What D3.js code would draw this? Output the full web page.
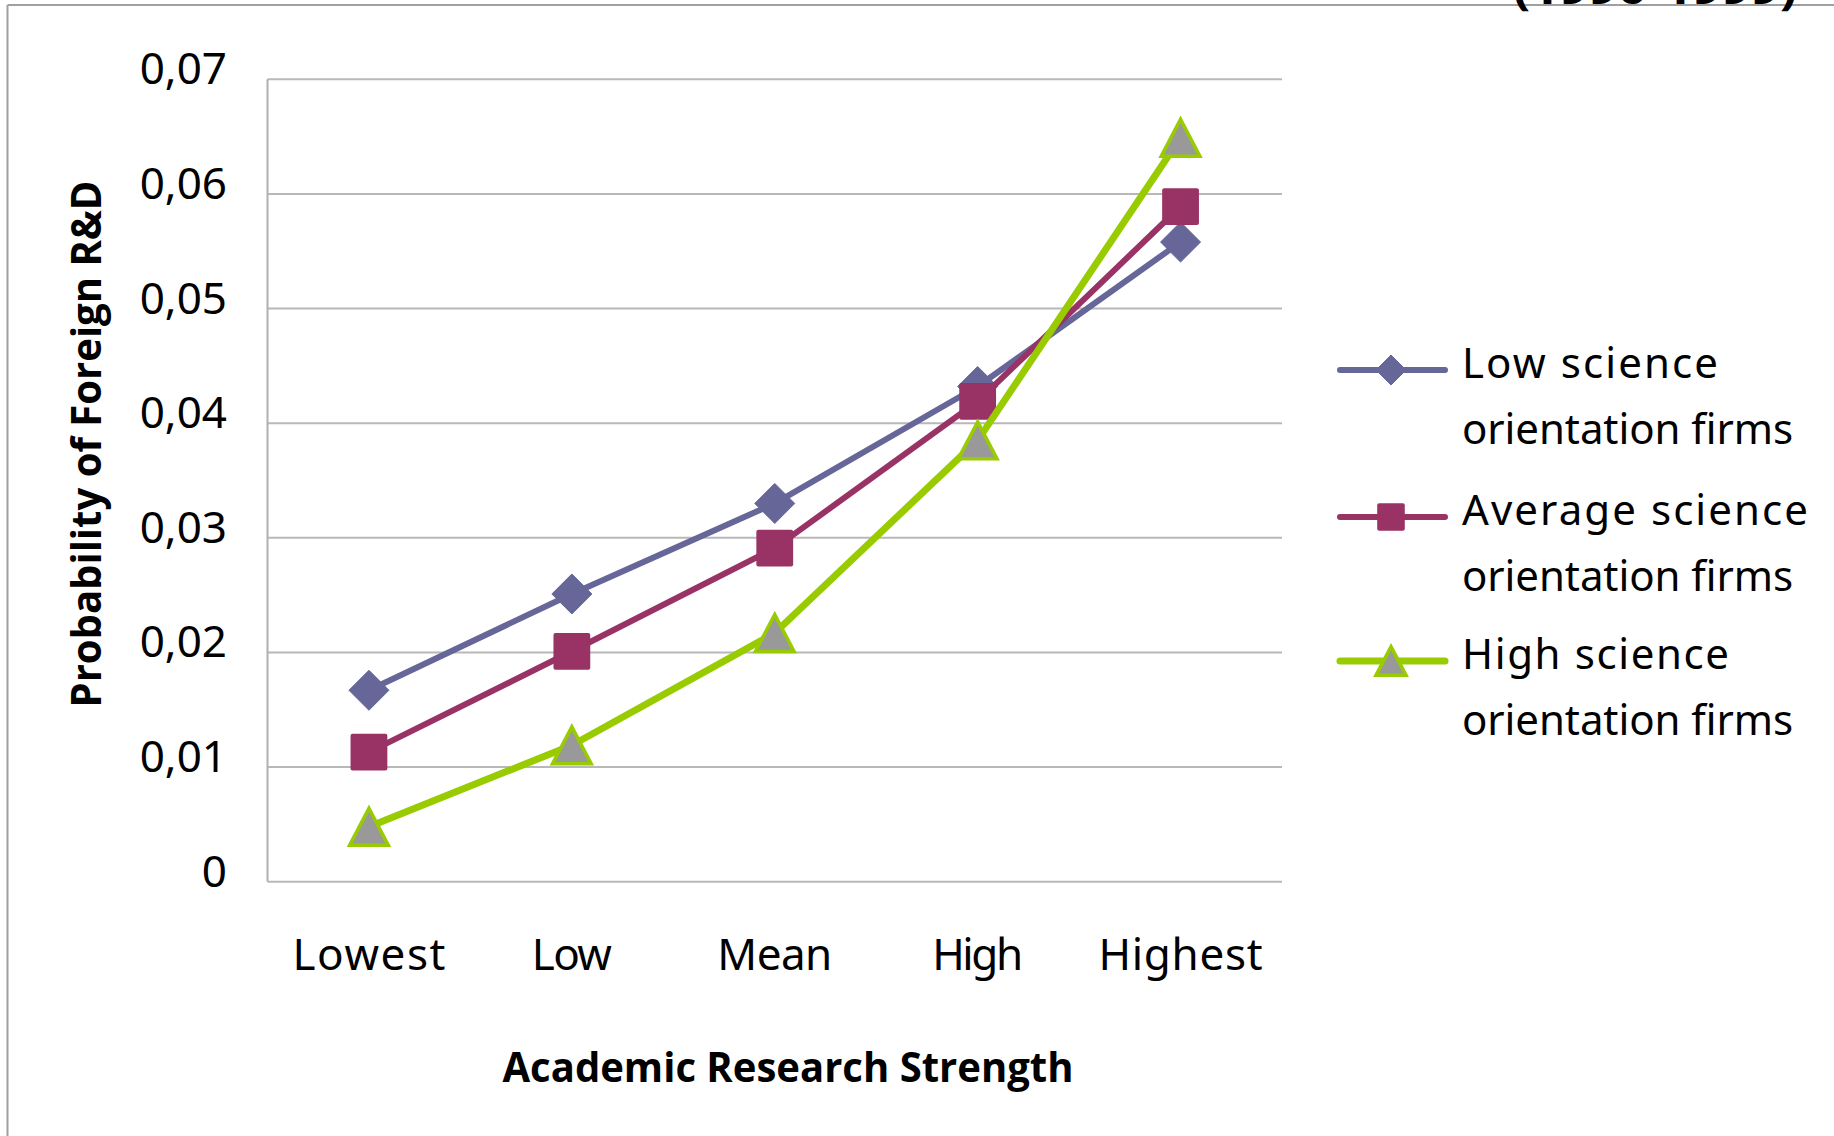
<!DOCTYPE html>
<html>
<head>
<meta charset="utf-8">
<script src="https://cdn.jsdelivr.net/npm/d3@7"></script>
<style>
  html, body { margin: 0; padding: 0; background: #ffffff; }
  svg { display: block; }
  .tick-text { font-family: "Noto Sans", "DejaVu Sans", sans-serif; fill: #000; }
  .title-text { font-family: "Open Sans", "Noto Sans", sans-serif; font-weight: 700; fill: #000; }
</style>
</head>
<body>
<svg id="chart" width="1834" height="1136"></svg>
<script>
// Categories along the x axis
const categories = ["Lowest", "Low", "Mean", "High", "Highest"];

// Series names (legend, two lines each)
const seriesNames = [
  ["Low science", "orientation firms"],
  ["Average science", "orientation firms"],
  ["High science", "orientation firms"]
];

// Predicted probability values per series
const lowScience     = [0.0167, 0.0251, 0.0330, 0.0432, 0.0558];
const averageScience = [0.0113, 0.0201, 0.0291, 0.0419, 0.0589];
const highScience    = [0.0048, 0.0119, 0.0217, 0.0385, 0.0649];

// Y axis ticks
const yTicks = [0, 0.01, 0.02, 0.03, 0.04, 0.05, 0.06, 0.07];

const xTitle = "Academic Research Strength";
const yTitle = "Probability of Foreign R&D";
const topTitle = "(1990-1999)";

const seriesValues = [lowScience, averageScience, highScience];
const seriesStyle = [
  { color: "#666699", width: 6, marker: "diamond" },
  { color: "#993366", width: 6, marker: "square" },
  { color: "#99cc00", width: 7, marker: "triangle" }
];

const svg = d3.select("#chart");
svg.append("rect").attr("width", 1834).attr("height", 1136).attr("fill", "#fff");

// Outer frame (top and left edges visible)
svg.append("line").attr("x1", 7.5).attr("x2", 1834).attr("y1", 5).attr("y2", 5)
  .attr("stroke", "#a0a0a0").attr("stroke-width", 2);
svg.append("line").attr("x1", 7.5).attr("x2", 7.5).attr("y1", 5).attr("y2", 1136)
  .attr("stroke", "#a0a0a0").attr("stroke-width", 2);

// Chart title, running off the top edge
svg.append("text").attr("class", "title-text")
  .attr("x", 1513).attr("y", 4)
  .attr("font-size", 44)
  .attr("textLength", 284).attr("lengthAdjust", "spacingAndGlyphs")
  .text(topTitle);

const plot = { left: 267.5, right: 1282, top: 79.3, bottom: 881.7 };

const x = d3.scaleBand().domain(categories).range([plot.left, plot.right]);
const y = d3.scaleLinear().domain([0, 0.07]).range([plot.bottom, plot.top]);

// Gridlines
svg.append("g").selectAll("line").data(yTicks.filter(d => d > 0)).join("line")
  .attr("x1", plot.left).attr("x2", plot.right)
  .attr("y1", d => y(d)).attr("y2", d => y(d))
  .attr("stroke", "#b8b8b8").attr("stroke-width", 2);

// Axis lines
svg.append("line").attr("x1", plot.left).attr("x2", plot.left)
  .attr("y1", plot.top).attr("y2", plot.bottom)
  .attr("stroke", "#b0b0b0").attr("stroke-width", 2);
svg.append("line").attr("x1", plot.left).attr("x2", plot.right)
  .attr("y1", plot.bottom).attr("y2", plot.bottom)
  .attr("stroke", "#b8b8b8").attr("stroke-width", 2);

// Y tick labels (comma decimal separator)
const fmt = d => d === 0 ? "0" : d3.format(".2f")(d).replace(".", ",");
svg.append("g").selectAll("text").data(yTicks).join("text")
  .attr("class", "tick-text")
  .attr("x", 227).attr("y", d => y(d) - 12)
  .attr("dominant-baseline", "central")
  .attr("text-anchor", "end")
  .attr("font-size", 44)
  .text(fmt);

// X tick labels
const xLabelWidths = { Lowest: 153, Low: 80, Mean: 115, High: 91, Highest: 164 };
svg.append("g").selectAll("text").data(categories).join("text")
  .attr("class", "tick-text")
  .attr("x", d => x(d) + x.bandwidth() / 2 - xLabelWidths[d] / 2)
  .attr("y", 970)
  .attr("font-size", 44)
  .attr("textLength", d => xLabelWidths[d])
  .attr("lengthAdjust", "spacing")
  .text(d => d);

// Axis titles
svg.append("text").attr("class", "title-text")
  .attr("x", 788).attr("y", 1082)
  .attr("text-anchor", "middle")
  .attr("font-size", 42)
  .attr("textLength", 571).attr("lengthAdjust", "spacingAndGlyphs")
  .text(xTitle);

svg.append("text").attr("class", "title-text")
  .attr("transform", "translate(101,444) rotate(-90)")
  .attr("text-anchor", "middle")
  .attr("font-size", 42)
  .attr("textLength", 527).attr("lengthAdjust", "spacingAndGlyphs")
  .text(yTitle);

// Marker drawing
function drawMarker(g, type, cx, cy, size, color) {
  if (type === "diamond") {
    const h = size / 2;
    g.append("path")
      .attr("d", `M${cx},${cy - h}L${cx + h},${cy}L${cx},${cy + h}L${cx - h},${cy}Z`)
      .attr("fill", color).attr("stroke", color).attr("stroke-width", 1).attr("stroke-linejoin", "round");
  } else if (type === "square") {
    const s = size * 0.92;
    g.append("rect")
      .attr("x", cx - s / 2).attr("y", cy - s / 2)
      .attr("width", s).attr("height", s).attr("rx", 2)
      .attr("fill", color);
  } else {
    const w = size * 0.86, h = size * 0.82;
    g.append("path")
      .attr("d", `M${cx},${cy - h / 2}L${cx + w / 2},${cy + h / 2}L${cx - w / 2},${cy + h / 2}Z`)
      .attr("fill", "#999999").attr("stroke", color).attr("stroke-width", 3.5)
      .attr("stroke-linejoin", "miter");
  }
}

const line = d3.line()
  .x((d, i) => x(categories[i]) + x.bandwidth() / 2)
  .y(d => y(d));

seriesValues.forEach((vals, si) => {
  const st = seriesStyle[si];
  const g = svg.append("g");
  g.append("path").datum(vals)
    .attr("d", line)
    .attr("fill", "none")
    .attr("stroke", st.color)
    .attr("stroke-width", st.width)
    .attr("stroke-linejoin", "round");
  vals.forEach((v, i) => {
    drawMarker(g, st.marker, x(categories[i]) + x.bandwidth() / 2, y(v), st.marker === "triangle" ? 45 : 40, st.color);
  });
});

// Legend
const legendRows = [370, 517, 661];
const legendTextWidths = [
  [256, 331],
  [346, 331],
  [267, 331]
];
seriesNames.forEach((names, si) => {
  const st = seriesStyle[si];
  const ly = legendRows[si];
  const g = svg.append("g");
  g.append("line").attr("x1", 1340).attr("x2", 1445).attr("y1", ly).attr("y2", ly)
    .attr("stroke", st.color).attr("stroke-width", st.width).attr("stroke-linecap", "round");
  drawMarker(g, st.marker, 1391, ly, st.marker === "triangle" ? 35 : 30, st.color);
  names.forEach((t, k) => {
    g.append("text").attr("class", "tick-text")
      .attr("x", 1462).attr("y", ly + 8 + k * 66)
      .attr("font-size", 42)
      .attr("textLength", legendTextWidths[si][k]).attr("lengthAdjust", "spacing")
      .text(t);
  });
});
</script>
</body>
</html>
